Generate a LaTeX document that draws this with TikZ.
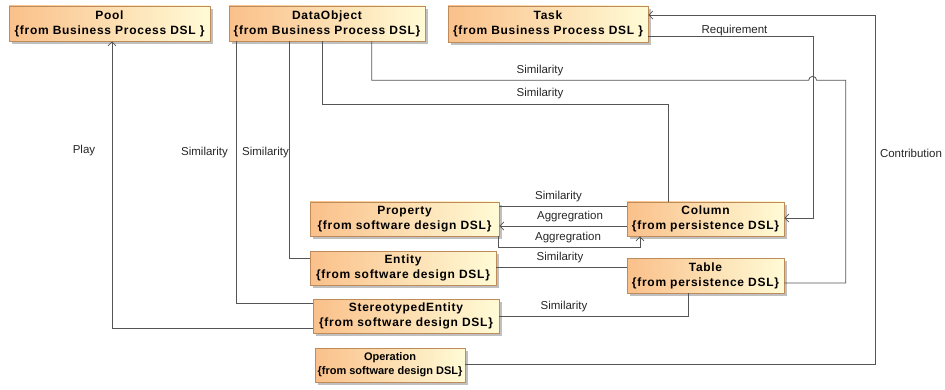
\documentclass[tikz,border=0pt]{standalone}
\usepackage{fontspec}
\setmainfont{Liberation Sans}
\newfontfamily\boxfont[LetterSpace=6]{Liberation Sans}
\usetikzlibrary{arrows.meta,shadows}
\definecolor{boxleft}{RGB}{250,192,138}
\definecolor{boxright}{RGB}{255,251,214}
\definecolor{boxborder}{RGB}{190,140,90}
\definecolor{linec}{RGB}{85,85,85}
\tikzset{
  cls/.style={draw=boxborder, line width=0.7pt, left color=boxleft, right color=boxright,
    align=center, inner sep=0pt, font=\boxfont\bfseries\fontsize{12}{15}\selectfont,
    drop shadow={shadow xshift=3pt, shadow yshift=-3pt, fill=black!45, opacity=0.55}},
  clsnarrow/.style={cls, font=\bfseries\fontsize{11}{14}\selectfont},
  conn/.style={draw=linec, line width=0.8pt},
  arr/.style={conn, -{Straight Barb[length=4pt,width=8pt]}},
  lbl/.style={font=\fontsize{11.5}{13}\selectfont, inner sep=0pt, text=black!85}
}
\begin{document}
\begin{tikzpicture}[x=1pt,y=-1pt]
\useasboundingbox (0,0) rectangle (945,390);
% nodes
\node[cls, minimum width=201pt, minimum height=35pt] (pool) at (109.5,23.5) {Pool\\\{from Business Process DSL \}};
\node[cls, minimum width=196pt, minimum height=35pt] (dataobj) at (327,23.5) {DataObject\\\{from Business Process DSL\}};
\node[cls, minimum width=200pt, minimum height=36pt] (task) at (548,24) {Task\\\{from Business Process DSL \}};
\node[cls, minimum width=189pt, minimum height=34pt] (prop) at (404.5,219) {Property\\\{from software design DSL\}};
\node[cls, minimum width=157pt, minimum height=34pt] (col) at (705.5,219) {Column\\\{from persistence DSL\}};
\node[cls, minimum width=186pt, minimum height=34pt] (ent) at (403,268) {Entity\\\{from software design DSL\}};
\node[cls, minimum width=157pt, minimum height=35pt] (table) at (705.5,275.5) {Table\\\{from persistence DSL\}};
\node[cls, minimum width=186pt, minimum height=34pt] (stereo) at (406,316) {StereotypedEntity\\\{from software design DSL\}};
\node[clsnarrow, minimum width=150pt, minimum height=34pt] (oper) at (390,365) {Operation\\\{from software design DSL\}};
% connectors
\draw[arr] ([yshift=-12pt]stereo.west) -| ([xshift=2.5pt]pool.south);
\draw[conn] ([xshift=8pt]dataobj.south west) |- ([yshift=13pt]stereo.west);
\draw[conn] ([xshift=61pt]dataobj.south west) |- ([yshift=10pt]ent.west);
\draw[conn] ([xshift=94pt]dataobj.south west) -- ++(0,63) -| ([xshift=-37.5pt]col.north);
\draw[conn] ([xshift=143pt]dataobj.south west) -- ++(0,39) coordinate (s5)
  -- ++(437,0) arc[start angle=180, end angle=0, radius=4pt] -- ++(29,0) |- ([yshift=-7.5pt]table.east);
\draw[arr] ([yshift=-12pt]task.east) -- ++(165,0) |- ([yshift=1pt]col.east);
\draw[arr] ([yshift=1pt]oper.east) -- ++(410,0) |- ([yshift=9pt]task.east);
\draw[conn] ([yshift=13pt]col.west) -- ([yshift=13pt]col.west -| prop.east);
\draw[arr] ([yshift=-7pt]col.west) -- ([yshift=-7pt]col.west -| prop.east);
\draw[arr] ([xshift=-1pt]prop.south east) -- ++(0,11) -| ([xshift=-65.5pt]col.south);
\draw[conn] ([yshift=1pt]ent.east) -- ([yshift=1pt]ent.east -| table.west);
\draw[conn] (stereo.east) -| ([xshift=-17.5pt]table.south);
% labels
\node[lbl] (lplay) at (84,151) {Play};
\node[lbl] (ls1) at (204.5,153) {Similarity};
\node[lbl] (ls2) at (265.5,153) {Similarity};
\node[lbl] (ls3) at (540,94) {Similarity};
\node[lbl] (ls4) at (540,71) {Similarity};
\node[lbl] (lreq) at (734.5,31) {Requirement};
\node[lbl] (lcon) at (911,153) {Contribution};
\node[lbl] (ls5) at (558.5,197) {Similarity};
\node[lbl] (la1) at (570,217) {Aggregration};
\node[lbl] (la2) at (568,238) {Aggregration};
\node[lbl] (ls6) at (560,258) {Similarity};
\node[lbl] (ls7) at (564,307) {Similarity};
\end{tikzpicture}
\end{document}
